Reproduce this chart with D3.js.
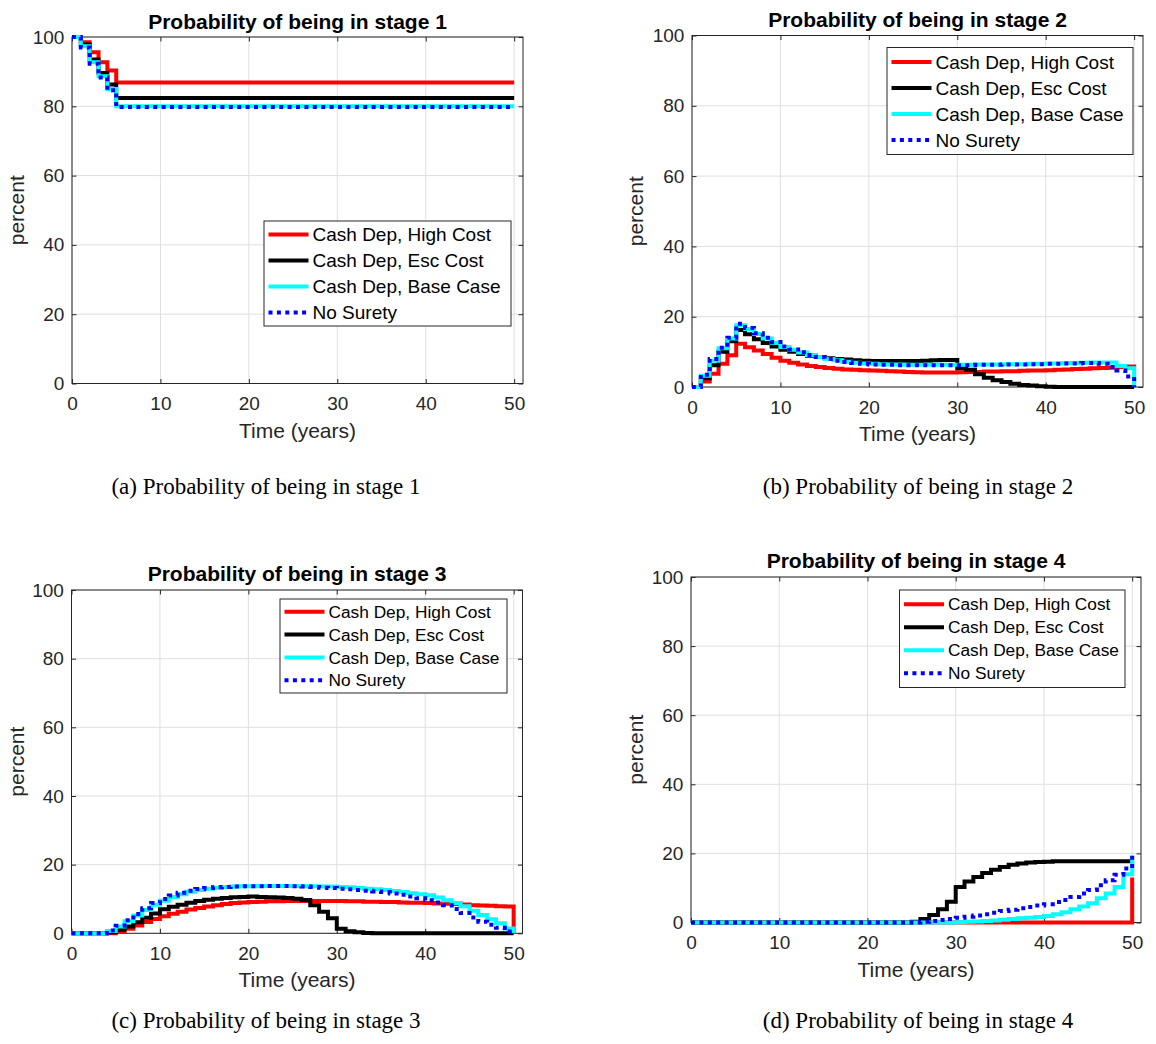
<!DOCTYPE html>
<html>
<head>
<meta charset="utf-8">
<script src="https://cdn.jsdelivr.net/npm/d3@7"></script>
<style>
  body { margin: 0; background: #fff; }
  svg { display: block; }
</style>
</head>
<body>
<svg id="fig" width="1156" height="1044"></svg>
<script>
"use strict";

// time grid in years
var years = [0,1,2,3,4,5,6,7,8,9,10,11,12,13,14,15,16,17,18,19,20,21,22,23,24,25,
  26,27,28,29,30,31,32,33,34,35,36,37,38,39,40,41,42,43,44,45,46,47,48,49,50];
// stage 1 only changes in the first five years
var stage1Years = [0, 1, 2, 3, 4, 5, 50];

var seriesNames = ['Cash Dep, High Cost', 'Cash Dep, Esc Cost', 'Cash Dep, Base Case', 'No Surety'];
var seriesColors = ['#ff0000', '#000000', '#00ffff', '#0000ff'];

var xTicks = [0, 10, 20, 30, 40, 50];
var yTicks = [0, 20, 40, 60, 80, 100];

// stage 1 (percent)
var s1High = [100, 98.5, 95.6, 92.7, 90.3, 86.9, 86.9];
var s1Esc  = [100, 97.8, 93.5, 89.6, 86.3, 82.4, 82.4];
var s1Base = [100, 97.3, 92.7, 88.7, 85.0, 80.0, 80.0];
var s1None = [100, 97.0, 92.3, 88.3, 84.6, 79.8, 79.8];

// stage 2
var s2High = [0,1.6,3.8,6.6,9.0,12.3,11.3,10.4,9.4,8.3, 7.5,6.9,6.4,6.0,5.7,5.4,5.2,5.0,4.9,4.8,
  4.7,4.6,4.5,4.4,4.3,4.2,4.1,4.1,4.1,4.1, 4.2,4.3,4.3,4.4,4.4,4.5,4.5,4.6,4.7,4.7,
  4.8,4.9,5.0,5.1,5.2,5.3,5.4,5.5,5.7,5.8, 5.5];
var s2Esc  = [0,2.5,6.2,10.0,13.0,16.2,15.0,13.6,12.5,11.5, 10.6,10.0,9.4,8.9,8.5,8.2,8.0,7.8,7.6,7.5,
  7.4,7.4,7.4,7.4,7.4,7.4,7.5,7.6,7.7,7.7, 5.3,4.9,3.6,2.6,1.9,1.4,0.9,0.6,0.4,0.2,
  0.1,0,0,0,0,0,0,0,0,0, 0];
var s2Base = [0,3.2,7.5,11.0,13.8,17.6,16.5,15.1,13.8,12.6, 11.4,10.6,9.8,9.1,8.5,8.0,7.6,7.2,6.9,6.7,
  6.6,6.5,6.4,6.4,6.3,6.3,6.3,6.3,6.3,6.3, 6.3,6.3,6.4,6.4,6.4,6.5,6.5,6.5,6.6,6.6,
  6.7,6.7,6.8,6.8,6.9,7.0,7.0,7.0,6.0,5.3, 0];
var s2None = [0,3.5,8.0,11.2,14.0,18.0,16.8,15.3,14.0,12.8, 11.5,10.7,9.9,9.1,8.5,8.0,7.5,7.1,6.8,6.6,
  6.4,6.3,6.3,6.2,6.2,6.2,6.2,6.2,6.2,6.2, 6.2,6.2,6.3,6.3,6.3,6.4,6.4,6.4,6.5,6.5,
  6.6,6.6,6.7,6.7,6.8,6.8,6.6,5.7,4.7,3.0, 0];

// stage 3
var s3High = [0,0,0,0,0,0.5,1.3,2.3,3.3,4.2, 5.0,5.7,6.3,6.9,7.4,7.8,8.2,8.5,8.8,9.0,
  9.1,9.2,9.3,9.3,9.4,9.4,9.4,9.4,9.4,9.4, 9.4,9.3,9.3,9.2,9.2,9.1,9.1,9.0,8.9,8.9,
  8.8,8.7,8.6,8.5,8.4,8.2,8.1,8.0,7.9,7.8, 0];
var s3Esc  = [0,0,0,0,0.3,1.0,2.0,3.2,4.5,5.8, 7.0,7.7,8.3,8.9,9.4,9.8,10.1,10.3,10.5,10.6,
  10.7,10.6,10.5,10.4,10.3,10.1,9.7,8.2,6.3,4.4, 1.3,0.6,0.3,0.1,0,0,0,0,0,0,
  0,0,0,0,0,0,0,0,0,0, 0];
var s3Base = [0,0,0,0,0.7,2.0,3.5,5.2,6.8,8.3, 9.5,10.6,11.4,12.1,12.6,13.0,13.3,13.5,13.6,13.7,
  13.7,13.8,13.8,13.8,13.8,13.8,13.7,13.7,13.6,13.6, 13.5,13.4,13.2,13.0,12.8,12.6,12.3,12.0,11.7,11.4,
  11.1,10.4,9.6,8.8,7.9,6.6,5.3,4.1,2.9,1.4, 0];
var s3None = [0,0,0,0,0.8,2.2,3.8,5.6,7.3,8.8, 10.0,11.0,11.8,12.4,12.9,13.2,13.4,13.5,13.6,13.7,
  13.7,13.7,13.8,13.8,13.8,13.7,13.6,13.5,13.3,13.2, 13.0,12.8,12.6,12.4,12.2,12.0,11.6,11.2,10.7,10.2,
  9.6,9.0,8.2,7.1,5.9,4.6,3.4,2.5,1.6,0.5, 0];

// stage 4
var s4High = [0,0,0,0,0,0,0,0,0,0, 0,0,0,0,0,0,0,0,0,0, 0,0,0,0,0,0,0,0,0,0,
  0,0,0,0,0,0,0,0,0,0, 0,0,0,0,0,0,0,0,0,0, 13];
var s4Esc  = [0,0,0,0,0,0,0,0,0,0, 0,0,0,0,0,0,0,0,0,0, 0,0,0,0,0,0.2,1.0,2.2,3.8,6.0,
  10.3,11.9,13.2,14.3,15.3,16.1,16.7,17.1,17.4,17.5, 17.6,17.7,17.7,17.7,17.7,17.7,17.7,17.7,17.7,17.7, 17.8];
var s4Base = [0,0,0,0,0,0,0,0,0,0, 0,0,0,0,0,0,0,0,0,0, 0,0,0,0,0,0,0,0,0,0,
  0.1,0.2,0.3,0.4,0.6,0.8,1.0,1.2,1.4,1.6, 1.9,2.4,3.0,3.8,4.6,5.6,7.0,8.4,10.3,14.0, 19.3];
var s4None = [0,0,0,0,0,0,0,0,0,0, 0,0,0,0,0,0,0,0,0,0, 0,0,0,0,0,0,0.2,0.4,0.7,1.0,
  1.4,1.7,2.0,2.4,2.8,3.3,3.7,4.1,4.5,4.9, 5.3,5.9,6.5,7.4,8.4,9.4,10.8,12.2,13.8,15.6, 20.5];

var axisColor = '#262626';
var gridColor = '#dfdfdf';
var sansFont = '"Liberation Sans", Arial, Helvetica, sans-serif';
var serifFont = '"Liberation Serif", "Times New Roman", serif';

var panels = [
  { title: 'Probability of being in stage 1', caption: '(a) Probability of being in stage 1',
    left: 72, top: 37, width: 451, height: 346.5, titleY: 29.3, time: stage1Years,
    series: [s1High, s1Esc, s1Base, s1None],
    legend: { x: 264, y: 221, w: 247, h: 105, size: 19, row: 26 },
    labelX: 24, capX: 266, capY: 487 },
  { title: 'Probability of being in stage 2', caption: '(b) Probability of being in stage 2',
    left: 692, top: 35.5, width: 451, height: 351.5, titleY: 26.7, time: years,
    series: [s2High, s2Esc, s2Base, s2None],
    legend: { x: 887, y: 47.5, w: 246, h: 107, size: 19, row: 26 },
    labelX: 643, capX: 918, capY: 487 },
  { title: 'Probability of being in stage 3', caption: '(c) Probability of being in stage 3',
    left: 71.5, top: 590, width: 451, height: 343.3, titleY: 580.7, time: years,
    series: [s3High, s3Esc, s3Base, s3None],
    legend: { x: 280, y: 599, w: 227, h: 94, size: 17.3, row: 22.8 },
    labelX: 24, capX: 266, capY: 1021 },
  { title: 'Probability of being in stage 4', caption: '(d) Probability of being in stage 4',
    left: 691, top: 577, width: 450, height: 345.5, titleY: 568.3, time: years,
    series: [s4High, s4Esc, s4Base, s4None],
    legend: { x: 899.5, y: 590, w: 225.5, h: 97.5, size: 17.3, row: 23 },
    labelX: 643, capX: 918, capY: 1021 }
];

function styleAxis(sel) {
  sel.select('.domain').remove();
  sel.selectAll('.tick line').attr('stroke', axisColor);
  sel.selectAll('.tick text')
    .attr('fill', axisColor)
    .attr('font-family', sansFont)
    .attr('font-size', 19);
}

function drawPanel(svg, p) {
  var g = svg.append('g')
    .attr('transform', 'translate(' + p.left + ',' + p.top + ')');

  var x = d3.scaleLinear().domain([0, 51]).range([0, p.width]);
  var y = d3.scaleLinear().domain([0, 100]).range([p.height, 0]);
  var tick = 4.5;

  // grid
  g.append('g').selectAll('line').data(xTicks).join('line')
    .attr('x1', d => x(d)).attr('x2', d => x(d))
    .attr('y1', 0).attr('y2', p.height)
    .attr('stroke', gridColor);
  g.append('g').selectAll('line').data(yTicks).join('line')
    .attr('x1', 0).attr('x2', p.width)
    .attr('y1', d => y(d)).attr('y2', d => y(d))
    .attr('stroke', gridColor);

  // axes, ticks pointing inward on all four sides
  g.append('g')
    .attr('transform', 'translate(0,' + p.height + ')')
    .call(d3.axisBottom(x).tickValues(xTicks).tickSize(-tick).tickPadding(13.3))
    .call(styleAxis);
  g.append('g')
    .call(d3.axisLeft(y).tickValues(yTicks).tickSize(-tick).tickPadding(7.6))
    .call(styleAxis);
  g.append('g')
    .call(d3.axisTop(x).tickValues(xTicks).tickSize(-tick).tickFormat(''))
    .call(styleAxis);
  g.append('g')
    .attr('transform', 'translate(' + p.width + ',0)')
    .call(d3.axisRight(y).tickValues(yTicks).tickSize(-tick).tickFormat(''))
    .call(styleAxis);

  g.append('rect')
    .attr('width', p.width).attr('height', p.height)
    .attr('fill', 'none').attr('stroke', axisColor).attr('stroke-width', 1);

  // stair lines
  var line = d3.line()
    .x((d, i) => x(p.time[i]))
    .y(d => y(d))
    .curve(d3.curveStepAfter);

  p.series.forEach(function (vals, k) {
    g.append('path')
      .datum(vals)
      .attr('d', line)
      .attr('fill', 'none')
      .attr('stroke', seriesColors[k])
      .attr('stroke-width', 4)
      .attr('stroke-dasharray', k === 3 ? '4,4.4' : null);
  });

  // title and axis labels
  svg.append('text')
    .attr('x', p.left + p.width / 2).attr('y', p.titleY)
    .attr('text-anchor', 'middle')
    .attr('font-family', sansFont).attr('font-size', 21).attr('font-weight', 'bold')
    .attr('fill', '#000')
    .text(p.title);
  g.append('text')
    .attr('x', p.width / 2).attr('y', p.height + 54)
    .attr('text-anchor', 'middle')
    .attr('font-family', sansFont).attr('font-size', 21)
    .attr('fill', axisColor)
    .text('Time (years)');
  svg.append('text')
    .attr('transform', 'translate(' + p.labelX + ',' + (p.top + p.height / 2) + ') rotate(-90)')
    .attr('text-anchor', 'middle')
    .attr('font-family', sansFont).attr('font-size', 21)
    .attr('fill', axisColor)
    .text('percent');

  // legend
  var L = p.legend;
  var lg = svg.append('g').attr('transform', 'translate(' + L.x + ',' + L.y + ')');
  lg.append('rect')
    .attr('width', L.w).attr('height', L.h)
    .attr('fill', '#fff').attr('stroke', axisColor).attr('stroke-width', 1);
  var first = L.h / 2 - 1.5 * L.row;
  seriesNames.forEach(function (name, k) {
    var cy = first + k * L.row;
    lg.append('line')
      .attr('x1', 4.5).attr('x2', 44.5).attr('y1', cy).attr('y2', cy)
      .attr('stroke', seriesColors[k]).attr('stroke-width', 4)
      .attr('stroke-dasharray', k === 3 ? '4,4.4' : null);
    lg.append('text')
      .attr('x', 48.5).attr('y', cy).attr('dy', '0.36em')
      .attr('font-family', sansFont).attr('font-size', L.size)
      .attr('fill', '#000')
      .text(name);
  });

  // subfigure caption
  svg.append('text')
    .attr('x', p.capX).attr('y', p.capY).attr('dy', '0.3em')
    .attr('text-anchor', 'middle')
    .attr('font-family', serifFont).attr('font-size', 23)
    .attr('fill', '#000')
    .text(p.caption);
}

var svg = d3.select('#fig');
svg.append('rect').attr('width', 1156).attr('height', 1044).attr('fill', '#fff');
panels.forEach(function (p) { drawPanel(svg, p); });
</script>
</body>
</html>
